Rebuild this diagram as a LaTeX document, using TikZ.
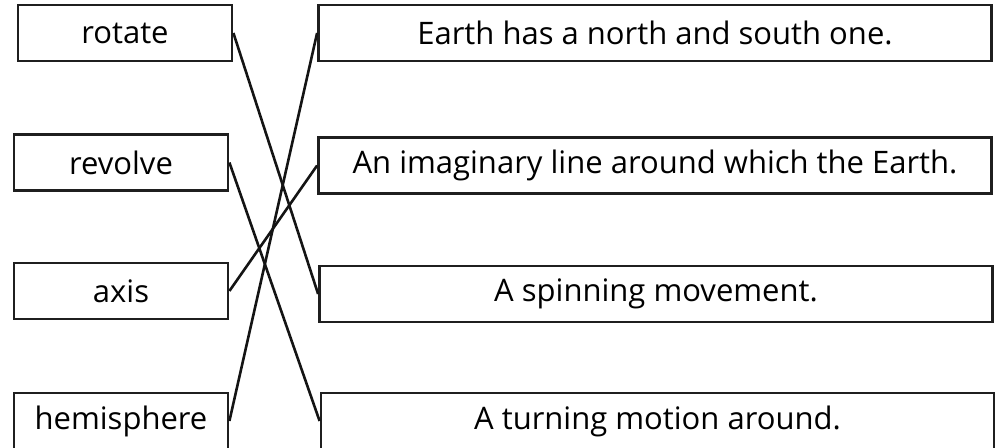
\documentclass[tikz,border=0pt]{standalone}
\usepackage{fontspec}
\setmainfont{Open Sans}
\begin{document}
\begin{tikzpicture}[x=1pt,y=1pt,
  card/.style={draw=black!88,line width=2.8pt,rectangle,inner sep=0pt,font=\fontsize{31}{37}\selectfont,text=black},
  lcard/.style={card,minimum width=214pt,minimum height=56pt},
  rcard/.style={card,minimum width=673pt,minimum height=56pt},
  link/.style={draw=black!92,line width=2.6pt}]
\useasboundingbox (0,0) rectangle (1000,447);
\node[lcard] (l1) at (125,414) {rotate};
\node[lcard] (l2) at (121,284.5) {revolve};
\node[lcard] (l3) at (121,156) {axis};
\node[lcard] (l4) at (121,26) {hemisphere};
\node[rcard] (r1) at (655,414) {Earth has a north and south one.};
\node[rcard] (r2) at (655,281.5) {An imaginary line around which the Earth.};
\node[rcard] (r3) at (656,153) {A spinning movement.};
\node[rcard] (r4) at (657.5,26) {A turning motion around.};
\draw[link] (l1.east) -- (r3.west);
\draw[link] (l2.east) -- (r4.west);
\draw[link] (l3.east) -- (r2.west);
\draw[link] (l4.east) -- (r1.west);
\end{tikzpicture}
\end{document}
